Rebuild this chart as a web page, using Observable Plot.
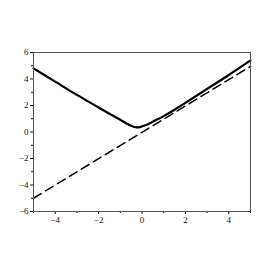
<!DOCTYPE html>
<html><head><meta charset="utf-8">
<script src="https://cdn.jsdelivr.net/npm/d3@7"></script>
<script src="https://cdn.jsdelivr.net/npm/@observablehq/plot@0.6"></script>
<style>body{margin:0;background:#fff;} svg{display:block;}</style>
</head><body><div id="chart"></div>
<script>
const curveX = [-5, -4, -3, -2, -1.5, -1, -0.75, -0.5, -0.35, -0.25, -0.1, 0, 0.25, 0.5, 1, 1.5, 2, 3, 4, 5];
const curveY = [4.8, 3.8, 2.8, 1.85, 1.38, 0.92, 0.68, 0.47, 0.38, 0.35, 0.37, 0.42, 0.57, 0.78, 1.2, 1.68, 2.2, 3.25, 4.3, 5.4];
const dashX = [-5, 5];
const dashY = [-5, 4.95];
const xMajor = [-4, -2, 0, 2, 4];
const xMinor = [-5, -3, -1, 1, 3, 5];
const yMajor = [-6, -4, -2, 0, 2, 4, 6];
const yMinor = [-5, -3, -1, 1, 3, 5];

const curve = curveX.map((x, i) => ({x, y: curveY[i]}));
const dash = dashX.map((x, i) => ({x, y: dashY[i]}));
const fmt = d => d < 0 ? "\u2212" + Math.abs(d) : String(d);

const chart = Plot.plot({
  width: 273, height: 273,
  marginLeft: 33, marginRight: 23, marginTop: 52, marginBottom: 62,
  style: {fontFamily: "Liberation Serif", fontSize: "9px", color: "#111"},
  x: {domain: [-5, 5]},
  y: {domain: [-6, 6]},
  marks: [
    Plot.axisX({ticks: xMajor, tickSize: 3, tickFormat: fmt, label: null, tickPadding: 2}),
    Plot.axisX({ticks: xMinor, tickSize: 2, text: null, label: null}),
    Plot.axisY({ticks: yMajor, tickSize: 3, tickFormat: fmt, label: null, tickPadding: 2}),
    Plot.axisY({ticks: yMinor, tickSize: 2, text: null, label: null}),
    Plot.line(dash, {x: "x", y: "y", stroke: "black", strokeWidth: 1.5, strokeDasharray: "9,5"}),
    Plot.line(curve, {x: "x", y: "y", stroke: "black", strokeWidth: 2.2, curve: "catmull-rom"}),
    Plot.frame({stroke: "#555"})
  ]
});
document.getElementById("chart").append(chart);
</script></body></html>
